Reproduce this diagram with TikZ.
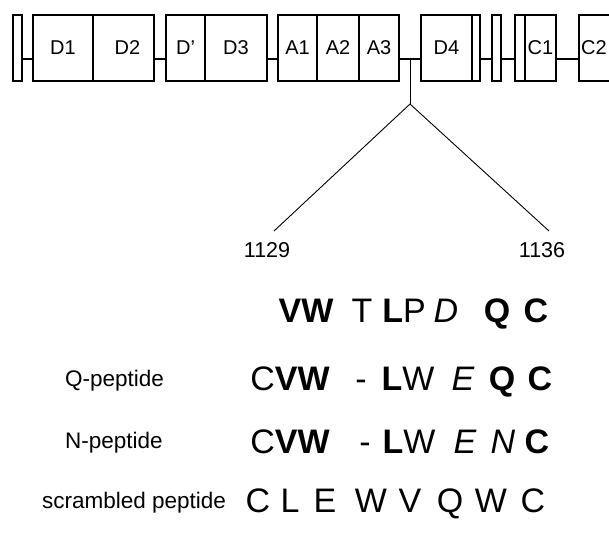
\documentclass[tikz,border=0pt]{standalone}
\usepackage{fontspec}
\setmainfont{Liberation Sans}
\usetikzlibrary{positioning}
\begin{document}
\begin{tikzpicture}[x=1pt, y=-1pt,
		dom/.style={draw, line width=1.1pt, outer sep=0pt, inner sep=0pt, minimum height=66pt, font=\fontsize{20}{24}\selectfont},
		link/.style={line width=1.1pt},
		pep/.style={font=\fontsize{34}{40}\selectfont, inner sep=0pt, anchor=base},
		peplbl/.style={font=\fontsize{22.5}{26}\selectfont, inner sep=0pt, anchor=base west},
		num/.style={font=\fontsize{21.5}{26}\selectfont, inner sep=0pt}]
			\useasboundingbox (0,0) rectangle (609,533);
			% domain structure
			\node[dom, minimum width=9pt, anchor=north west] (tm1) at (13,15) {};
			\node[dom, minimum width=60pt, right=11pt of tm1] (d1) {D1};
			\node[dom, minimum width=61pt, right=0pt of d1] (d2) {\hspace*{8pt}D2};
			\node[dom, minimum width=39pt, right=12pt of d2] (dp) {D'};
			\node[dom, minimum width=62pt, right=0pt of dp] (d3) {D3};
			\node[dom, minimum width=39pt, right=11pt of d3] (a1) {A1};
			\node[dom, minimum width=42pt, right=0pt of a1] (a2) {A2};
			\node[dom, minimum width=40pt, right=0pt of a2] (a3) {A3};
			\node[dom, minimum width=51pt, right=22pt of a3] (d4) {D4};
			\node[dom, minimum width=8pt, right=0pt of d4] (d4s) {};
			\node[dom, minimum width=9pt, right=12pt of d4s] (tm2) {};
			\node[dom, minimum width=10pt, right=14pt of tm2] (tm3) {};
			\node[dom, minimum width=31pt, right=0pt of tm3] (c1) {C1};
			\node[dom, minimum width=60pt, right=23pt of c1] (c2) {C2\hspace*{30pt}};
			\foreach \a/\b in {tm1/d1, d2/dp, d3/a1, a3/d4, d4s/tm2, tm2/tm3, c1/c2}
				\draw[link] ([yshift=-11pt]\a.east) -- ([yshift=-11pt]\b.west);
			% zoom on 1129--1136
			\coordinate (tick) at (410,59);
			\coordinate (apex) at (410,104);
			\coordinate (lend) at (274,231);
			\coordinate (rend) at (549,231);
			\draw[line width=1pt] (tick) -- (apex);
			\draw[line width=0.9pt] (lend) -- (apex) -- (rend);
			\node[num] (n1129) at (267,250) {1129};
			\node[num] (n1136) at (542,250) {1136};
			% sequences
			\foreach \x/\t [count=\i] in {306/\textbf{VW}, 362/T, 404/\textbf{L}P, 446/\textit{D}, 497/\textbf{Q}, 536/\textbf{C}}
				\node[pep] (wt\i) at (\x,322) {\t};
			\node[peplbl] (qlbl) at (65,386) {Q-peptide};
			\foreach \x/\t [count=\i] in {290/C\textbf{VW}, 361/-, 408/\textbf{L}W, 463/\textit{E}, 502/\textbf{Q}, 540/\textbf{C}}
				\node[pep] (qp\i) at (\x,390) {\t};
			\node[peplbl] (nlbl) at (65,448) {N-peptide};
			\foreach \x/\t [count=\i] in {290/C\textbf{VW}, 365/-, 409/\textbf{L}W, 465/\textit{E}, 503/\textit{N}, 537/\textbf{C}}
				\node[pep] (np\i) at (\x,453) {\t};
			\node[peplbl] (slbl) at (42,508) {scrambled peptide};
			\foreach \x/\t [count=\i] in {258/C, 290/L, 325/E, 371/W, 410/V, 450/Q, 491/W, 533/C}
				\node[pep] (sp\i) at (\x,512) {\t};
		\end{tikzpicture}
\end{document}
